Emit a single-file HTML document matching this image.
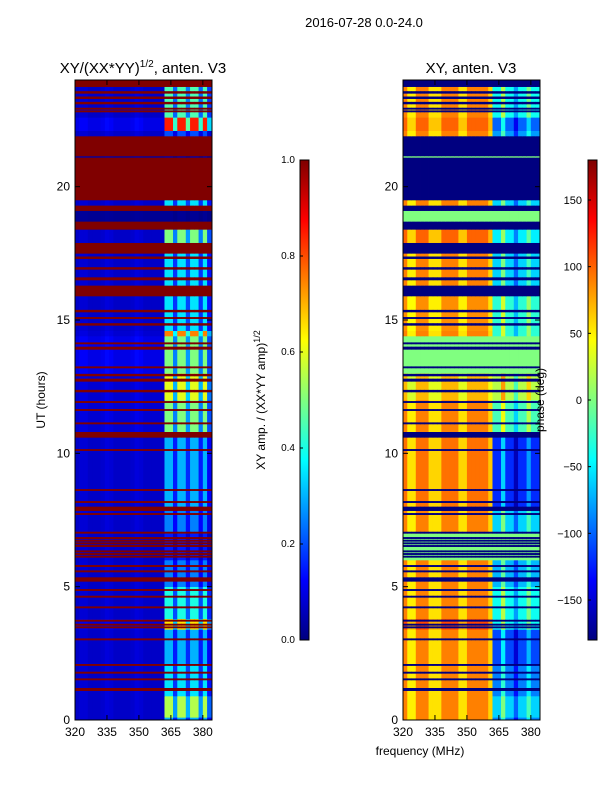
<!DOCTYPE html>
<html><head><meta charset="utf-8"><style>
body{margin:0;background:#fff;font-family:"Liberation Sans",sans-serif}
svg text{font-family:"Liberation Sans",sans-serif;fill:#000}
</style></head><body>
<svg id="fig" width="600" height="800" xmlns="http://www.w3.org/2000/svg">
<defs>
<linearGradient id="jetg" x1="0" y1="1" x2="0" y2="0">
<stop offset="0" stop-color="#00007f"/><stop offset="0.125" stop-color="#0000ff"/><stop offset="0.375" stop-color="#00ffff"/><stop offset="0.625" stop-color="#ffff00"/><stop offset="0.875" stop-color="#ff0000"/><stop offset="1" stop-color="#7f0000"/>
</linearGradient>
</defs>
<text x="364" y="27" font-size="13" text-anchor="middle">2016-07-28 0.0-24.0</text>
<text x="143" y="73" font-size="15" text-anchor="middle">XY/(XX*YY)<tspan font-size="10" dy="-6">1/2</tspan><tspan dy="6">, anten. V3</tspan></text>
<text x="471" y="73" font-size="15" text-anchor="middle">XY, anten. V3</text>
<text x="420" y="755" font-size="12" text-anchor="middle">frequency (MHz)</text>
<text transform="translate(45,400) rotate(-90)" font-size="12" text-anchor="middle">UT (hours)</text>
<text transform="translate(265,400) rotate(-90)" font-size="12" text-anchor="middle">XY amp. / (XX*YY amp)<tspan font-size="9" dy="-5">1/2</tspan></text>
<g id="left"></g>
<g id="right"></g>
<text transform="translate(544,400) rotate(-90)" font-size="12" text-anchor="middle">phase (deg)</text>
<g id="axes"></g>
<rect x="300" y="160" width="9" height="480" fill="url(#jetg)" stroke="#000" stroke-width="1"/>
<rect x="588" y="160" width="9" height="480" fill="url(#jetg)" stroke="#000" stroke-width="1"/>
<g id="cb"></g>
</svg>
<script>
// frequency channels (MHz, 2 MHz bins)
const chanStart = [320,322,324,326,328,330,332,334,336,338,340,342,344,346,348,350,352,354,356,358,360,362,364,366,368,370,372,374,376,378,380,382];
const phaseMod = [0,-40,-40,0,0,0,-35,-35,-35,0,0,0,0,-35,-35,0,0,0,0,0,-30,0,0,0,0,0,0,0,0,0,0,0];
const ampLoMod = [1,1.2,1.2,1,1,1,1.1,1.3,1.2,1,1,1,1,1.1,1.3,1.2,1,1,1,1,1,1,1,1,1,1,1,1,1,1,1,1];
const ampHiMod = [1,1,1,1,1,1,1,1,1,1,1,1,1,1,1,1,1,1,1,1,1,1,1,0.5,1,1,0.55,1,1,0.5,1,0.4];
const phaseHiMod = [0,0,0,0,0,0,0,0,0,0,0,0,0,0,0,0,0,0,0,0,0,0,0,60,0,0,-40,0,0,40,0,0];
const hiStartMHz = 362;
// time bands (UT hours)
const bandStart = [0,0.1,0.9,2.1,3.4,3.8,5.0,6.0,7.0,8.0,10.8,12,13,14.4,14.6,15.9,16.3,17.5,17.9,18.4,18.7,19.1,19.3,19.5,21.1,21.15,21.9,22.1,22.6,23.75];
const bandEnd   = [24,0.9,2.1,3.4,3.8,5.0,6.0,7.0,8.0,10.6,12,13,14.4,14.6,15.9,16.3,17.5,17.9,18.4,18.7,19.1,19.3,19.5,21.1,21.15,21.9,22.1,22.6,23.75,24];
const ampLo     = [0.07,0.07,0.07,0.07,0.09,0.07,0.07,0.07,0.07,0.07,0.08,0.08,0.1,0.08,0.07,1,0.07,1,0.07,1,0.02,1,0.07,1,0.04,1,0.07,0.1,0.07,1];
const ampHi     = [0.3,0.55,0.35,0.3,0.65,0.4,0.25,0.15,0.25,0.3,0.5,0.6,0.5,0.75,0.35,1,0.35,1,0.5,1,0.02,1,0.35,1,0.05,1,0.2,0.85,0.45,1];
const phaseLo   = [90,90,90,90,110,90,90,0,90,95,90,70,0,90,85,-180,90,-180,100,-180,0,-180,90,-180,0,-180,90,100,90,-180];
const phaseHi   = [-90,-60,-90,-110,-40,-40,-70,0,-60,-120,-20,20,0,-30,-30,-180,-60,-180,-50,-180,0,-180,-60,-180,0,-180,-80,-100,-40,-180];
// thin flagged rows
const flagHours = [1.1,1.5,1.75,2.04,3.0,3.45,3.55,3.7,4.2,4.6,4.85,5.2,5.55,5.75,6.1,6.2,6.3,6.5,6.6,6.7,6.8,7.0,7.7,7.85,8.15,8.6,10.1,10.6,11.1,11.6,11.9,12.3,12.7,12.9,13.2,13.9,14.1,14.8,15.05,15.3,16.5,16.9,17.3,22.8,22.9,23.1,23.3,23.5];
const flagWidth = [0.1,0.06,0.06,0.06,0.06,0.06,0.06,0.06,0.06,0.06,0.06,0.15,0.06,0.06,0.06,0.06,0.06,0.06,0.06,0.06,0.06,0.06,0.06,0.15,0.06,0.06,0.06,0.2,0.06,0.06,0.06,0.08,0.1,0.08,0.06,0.1,0.06,0.08,0.06,0.08,0.1,0.08,0.08,0.06,0.06,0.08,0.08,0.08];
const yTicks = [0,5,10,15,20];
const xTicks = [320,335,350,365,380];
const ampTicks = [0.0,0.2,0.4,0.6,0.8,1.0];
const phaseTicks = [-150,-100,-50,0,50,100,150];

const NS="http://www.w3.org/2000/svg";
const F0=320,F1=384.3,W=137,TOP=80,BOT=720;
const xs=(f,off)=>off+(f-F0)*W/(F1-F0);
const ys=h=>BOT-h*(BOT-TOP)/24;
function cl(v){return Math.max(0,Math.min(1,v));}
function jet(v){v=cl(v);const r=cl(1.5-Math.abs(4*v-3)),g=cl(1.5-Math.abs(4*v-2)),b=cl(1.5-Math.abs(4*v-1));return `rgb(${Math.round(r*255)},${Math.round(g*255)},${Math.round(b*255)})`;}
function mk(p,tag,at){const e=document.createElementNS(NS,tag);for(const k in at)e.setAttribute(k,at[k]);p.appendChild(e);return e;}
const L=document.getElementById('left'),R=document.getElementById('right');
function drawBand(h0,h1,aL,aH,pL,pH){
  const flag=aL>=1;
  const y0=ys(h1),hh=ys(h0)-ys(h1);
  for(let j=0;j<chanStart.length;j++){
    const f=chanStart[j],hi=f>=hiStartMHz;
    const fe=Math.min(f+2,F1);
    let a=hi?aH*ampHiMod[j]:aL*ampLoMod[j]; if(flag)a=1;
    let p=hi?(flag||pH===0?pH:pH+phaseHiMod[j]):(pL+((pL>=60)?phaseMod[j]:0));
    const ra=mk(L,'rect',{x:xs(f,75),y:y0,width:xs(fe,75)-xs(f,75)+0.4,height:hh+0.3,fill:jet(a)});
    
    
    const rp=mk(R,'rect',{x:xs(f,403),y:y0,width:xs(fe,403)-xs(f,403)+0.4,height:hh+0.3,fill:jet((p+180)/360)});
    
    
  }
}
for(let i=0;i<bandStart.length;i++)drawBand(bandStart[i],bandEnd[i],ampLo[i],ampHi[i],phaseLo[i],phaseHi[i]);
for(let i=0;i<flagHours.length;i++)drawBand(flagHours[i],flagHours[i]+flagWidth[i],1,1,-180,-180);
const A=document.getElementById('axes');
[75,403].forEach(off=>{
  const fr=mk(A,'rect',{x:off,y:TOP,width:W,height:BOT-TOP,fill:'none',stroke:'#000','stroke-width':1});
  
  
  yTicks.forEach(t=>{
    const y=ys(t);
    mk(A,'line',{x1:off,x2:off+5,y1:y,y2:y,stroke:'#000'});
    mk(A,'line',{x1:off+W,x2:off+W-5,y1:y,y2:y,stroke:'#000'});
    const tx=mk(A,'text',{x:off-5,y:y+4,'font-size':12,'text-anchor':'end'});tx.textContent=t;
    
    
  });
  xTicks.forEach(t=>{
    const x=xs(t,off);
    mk(A,'line',{x1:x,x2:x,y1:BOT,y2:BOT-5,stroke:'#000'});
    mk(A,'line',{x1:x,x2:x,y1:TOP,y2:TOP+5,stroke:'#000'});
    const tx=mk(A,'text',{x:x,y:BOT+16,'font-size':12,'text-anchor':'middle'});tx.textContent=t;
    
    
  });
});
const C=document.getElementById('cb');
ampTicks.forEach(t=>{const y=640-t*480;
  mk(C,'line',{x1:300,x2:303,y1:y,y2:y,stroke:'#000'});
  const tx=mk(C,'text',{x:295,y:y+3,'font-size':10,'text-anchor':'end'});tx.textContent=t.toFixed(1);
  
  });
phaseTicks.forEach(t=>{const y=640-(t+180)/360*480;
  mk(C,'line',{x1:588,x2:591,y1:y,y2:y,stroke:'#000'});
  const tx=mk(C,'text',{x:582,y:y+4,'font-size':11,'text-anchor':'end'});tx.textContent=(t<0?'\u2212'+(-t):t);
  
  });
</script>
</body></html>
